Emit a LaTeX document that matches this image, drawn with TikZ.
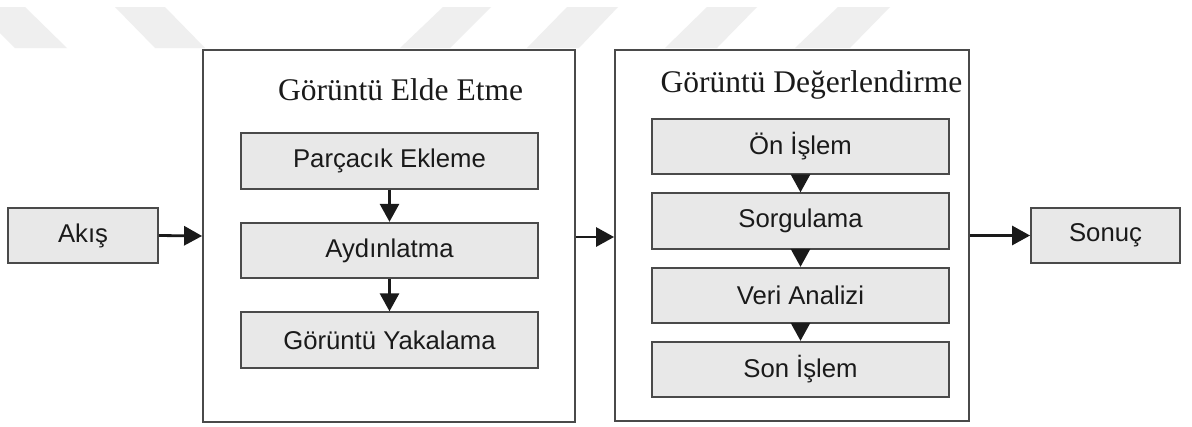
\documentclass[tikz,border=0pt]{standalone}
\usepackage{fontspec}
\setmainfont{Liberation Serif}
\newfontfamily\boxfont{Liberation Sans}
\usetikzlibrary{arrows.meta}
\definecolor{boxfill}{HTML}{E8E8E8}
\definecolor{edge}{HTML}{4A4A4A}
\definecolor{ink}{HTML}{1A1A1A}
\definecolor{wm}{HTML}{EFEFEF}
\tikzset{
  stage/.style={draw=edge, line width=1.8pt, fill=boxfill, inner sep=0pt,
    minimum width=297pt, minimum height=55.5pt, text=ink,
    font=\boxfont\fontsize{25.7}{30}\selectfont},
  outer/.style={draw=edge, line width=1.8pt, fill=white, inner sep=0pt},
  title/.style={anchor=base, text=ink, inner sep=0pt,
    font=\fontsize{31.5}{36}\selectfont},
  flow/.style={draw=ink, line width=2.8pt,
    -{Triangle[length=18pt 0,width=19pt 0]}},
  wmark/.style={fill=wm, draw=none}
}
\begin{document}
\begin{tikzpicture}[x=1pt,y=-1pt]
\useasboundingbox (0,0) rectangle (1192,426);
\fill[white] (0,0) rectangle (1192,426);
% watermark stripes
\fill[wmark] (-26,7) -- (25,7) -- (67,48) -- (15,48) -- cycle;
\fill[wmark] (115,7) -- (165,7) -- (205,48) -- (155,48) -- cycle;
\fill[wmark] (443,7) -- (491,7) -- (450,48) -- (400,48) -- cycle;
\fill[wmark] (567,7) -- (618,7) -- (579,48) -- (527,48) -- cycle;
\fill[wmark] (707,7) -- (757,7) -- (717,48) -- (665,48) -- cycle;
\fill[wmark] (838,7) -- (890,7) -- (850,48) -- (795,48) -- cycle;

% outer boxes
\node[outer, minimum width=372pt, minimum height=372pt] (acq) at (389,236) {};
\node[outer, minimum width=354pt, minimum height=371pt] (eval) at (792,235.5) {};
\node[title] (acqT) at (400.5,100) {Görüntü Elde Etme};
\node[title] (evalT) at (811.5,92.7) {Görüntü Değerlendirme};

% side boxes
\node[stage, minimum width=150pt] (akis) at (83,235.5) {Akış};
\node[stage, minimum width=149pt] (sonuc) at (1105.5,235.5) {Sonuç};

% acquisition stages
\node[stage] (p1) at (389.5,161) {Parçacık Ekleme};
\node[stage] (p2) at (389.5,250.5) {Aydınlatma};
\node[stage] (p3) at (389.5,340) {Görüntü Yakalama};

% evaluation stages
\node[stage] (e1) at (800.5,146.5) {Ön İşlem};
\node[stage] (e2) at (800.5,221) {Sorgulama};
\node[stage] (e3) at (800.5,295.5) {Veri Analizi};
\node[stage] (e4) at (800.5,369.5) {Son İşlem};

% connectors
\draw[flow] (akis.east) -- (acq.west);
\draw[flow] (acq.east |- 0,237) -- (eval.west |- 0,237);
\draw[flow] (eval.east) -- (sonuc.west);
\draw[flow] (p1.south) -- (p2.north);
\draw[flow] (p2.south) -- (p3.north);
\draw[flow] (e1.south) -- (e2.north);
\draw[flow] (e2.south) -- (e3.north);
\draw[flow] (e3.south) -- (e4.north);
\end{tikzpicture}
\end{document}
